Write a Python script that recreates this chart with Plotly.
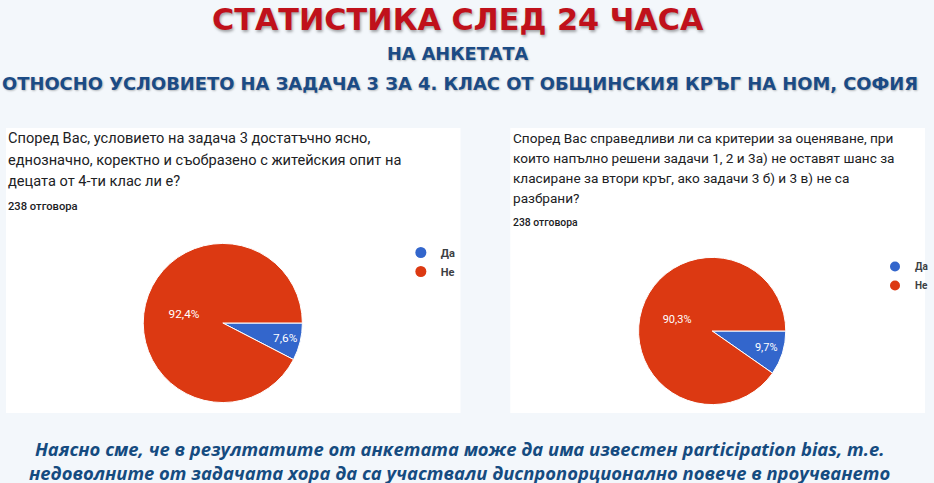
import plotly.graph_objects as go

W, H = 934, 483

# data
labels = ["Да", "Не"]
left_values = [7.6, 92.4]
right_values = [9.7, 90.3]
colors = ["#3366cc", "#dc3912"]

title_main = "СТАТИСТИКА СЛЕД 24 ЧАСА"
title_sub1 = "НА АНКЕТАТА"
title_sub2 = "ОТНОСНО УСЛОВИЕТО НА ЗАДАЧА 3 ЗА 4. КЛАС ОТ ОБЩИНСКИЯ КРЪГ НА НОМ, СОФИЯ"

left_question = [
    "Според Вас, условието на задача 3 достатъчно ясно,",
    "еднозначно, коректно и съобразено с житейския опит на",
    "децата от 4-ти клас ли е?",
]
right_question = [
    "Според Вас справедливи ли са критерии за оценяване, при",
    "които напълно решени задачи 1, 2 и 3а) не оставят шанс за",
    "класиране за втори кръг, ако задачи 3 б) и 3 в) не са",
    "разбрани?",
]
responses = "238 отговора"

footer = [
    "Наясно сме, че в резултатите от анкетата може да има известен participation bias, т.е.",
    "недоволните от задачата хора да са участвали диспропорционално повече в проучването",
]


def px(x):
    return x / W


def py(y):
    return 1 - y / H


fig = go.Figure()

fig.add_trace(go.Pie(
    labels=labels, values=left_values, sort=False, direction="clockwise", rotation=90,
    marker=dict(colors=colors, line=dict(color="white", width=1)),
    texttemplate="%{percent:.1%}", textposition="inside", insidetextorientation="horizontal",
    textfont=dict(family="Roboto", size=11.8, color="white"),
    domain=dict(x=[px(144), px(304)], y=[py(403), py(243)]),
    showlegend=False, hoverinfo="label+percent"))

fig.add_trace(go.Pie(
    labels=labels, values=right_values, sort=False, direction="clockwise", rotation=90,
    marker=dict(colors=colors, line=dict(color="white", width=1)),
    texttemplate="%{percent:.1%}", textposition="inside", insidetextorientation="horizontal",
    textfont=dict(family="Roboto", size=11, color="white"),
    domain=dict(x=[px(642), px(790)], y=[py(405), py(257)]),
    showlegend=False, hoverinfo="label+percent"))

# legend entries with round markers like the source
for lab, col in zip(labels, colors):
    fig.add_trace(go.Scatter(x=[None], y=[None], mode="markers", name=lab,
                             marker=dict(color=col, size=11, symbol="circle"),
                             legend="legend"))
    fig.add_trace(go.Scatter(x=[None], y=[None], mode="markers", name=lab,
                             marker=dict(color=col, size=10, symbol="circle"),
                             legend="legend2"))

ann = []
ann.append(dict(text=title_main, x=px(460), y=py(19),
                font=dict(family="DejaVu Sans", size=30.3, color="#c0111b", weight="bold",
                          shadow="1px 2px 3px rgba(0,0,0,0.35)")))
ann.append(dict(text=title_sub1, x=px(460), y=py(54),
                font=dict(family="DejaVu Sans", size=17.7, color="#1b4b85", weight="bold",
                          shadow="1px 1px 2px rgba(0,0,0,0.25)")))
ann.append(dict(text=title_sub2, x=px(462), y=py(83),
                font=dict(family="DejaVu Sans", size=17.9, color="#1b4b85", weight="bold",
                          shadow="1px 1px 2px rgba(0,0,0,0.25)")))

for i, line in enumerate(left_question):
    ann.append(dict(text=line, x=px(6), y=py(138 + 21.5 * i), xanchor="left",
                    font=dict(family="Roboto", size=14.6, color="#202124")))
ann.append(dict(text=responses, x=px(6), y=py(206), xanchor="left",
                font=dict(family="Roboto", size=11.2, color="#202124", weight=500)))

for i, line in enumerate(right_question):
    ann.append(dict(text=line, x=px(514), y=py(138 + 20 * i), xanchor="left",
                    font=dict(family="Roboto", size=13.6, color="#202124")))
ann.append(dict(text=responses, x=px(514), y=py(222), xanchor="left",
                font=dict(family="Roboto", size=10.4, color="#202124", weight=500)))

ann.append(dict(text="<br>".join(footer), x=px(462), y=py(460), borderpad=0,
                font=dict(family="Open Sans", size=18.4, color="#154b80",
                          weight="bold", style="italic")))

for a in ann:
    a.update(xref="paper", yref="paper", showarrow=False, yanchor="middle")
    a.setdefault("xanchor", "center")

fig.update_layout(
    width=W, height=H,
    margin=dict(l=0, r=0, t=0, b=0),
    paper_bgcolor="#f3f7fb",
    plot_bgcolor="rgba(0,0,0,0)",
    separators=",.",
    annotations=ann,
    xaxis=dict(visible=False),
    yaxis=dict(visible=False),
    shapes=[
        dict(type="rect", xref="paper", yref="paper", x0=px(6), x1=px(463), y0=py(413), y1=py(128),
             fillcolor="white", line=dict(width=0), layer="below"),
        dict(type="rect", xref="paper", yref="paper", x0=px(513), x1=px(930), y0=py(413), y1=py(128),
             fillcolor="white", line=dict(width=0), layer="below"),
    ],
    legend=dict(x=px(403), y=py(238), xanchor="left", yanchor="top", bgcolor="rgba(0,0,0,0)",
                font=dict(family="Roboto", size=11, color="#3c4043", weight="bold"),
                itemwidth=30, tracegroupgap=0),
    legend2=dict(x=px(880), y=py(252), xanchor="left", yanchor="top", bgcolor="rgba(0,0,0,0)",
                 font=dict(family="Roboto", size=10, color="#3c4043", weight="bold"),
                 itemwidth=30, tracegroupgap=0),
)

fig.write_html("out.html", config={"displayModeBar": False},
               post_script="document.body.style.margin='0';document.body.style.overflow='hidden';")
